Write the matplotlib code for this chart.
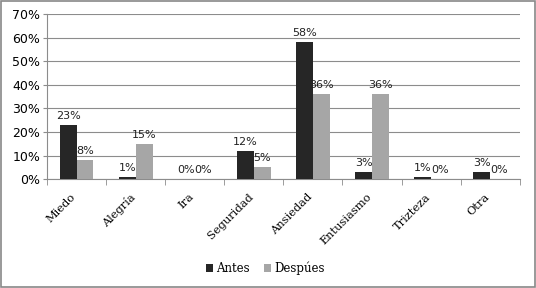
import matplotlib
matplotlib.use("Agg")
import matplotlib.pyplot as plt
import matplotlib.transforms as mtransforms
import numpy as np
from matplotlib.patches import Rectangle

categories = ["Miedo", "Alegría", "Ira", "Seguridad", "Ansiedad", "Entusiasmo", "Trizteza", "Otra"]
antes = [23, 1, 0, 12, 58, 3, 1, 3]
despues = [8, 15, 0, 5, 36, 36, 0, 0]
yticks = [0, 10, 20, 30, 40, 50, 60, 70]

fig = plt.figure(figsize=(5.36, 2.88), dpi=100)
fig.patches.append(Rectangle((0.002, 0.002), 0.996, 0.994, transform=fig.transFigure,
                             fill=False, edgecolor="#888888", linewidth=1.2))
ax = fig.add_axes([0.0877, 0.378, 0.882, 0.573])

x = np.arange(len(categories))
w = 0.286
b1 = ax.bar(x - w / 2, antes, w, color="#262626", label="Antes", zorder=3)
b2 = ax.bar(x + w / 2, despues, w, color="#a6a6a6", label="Despúes", zorder=3)

for bars, vals in ((b1, antes), (b2, despues)):
    for r, v in zip(bars, vals):
        ax.annotate(f"{v}%", (r.get_x() + r.get_width() / 2, v), xytext=(0, 3),
                    textcoords="offset points", ha="center", va="bottom",
                    fontsize=8, family="DejaVu Sans", color="#222222", zorder=4)

ax.set_xlim(-0.5, len(categories) - 0.5)
ax.set_ylim(0, 70)
ax.set_yticks(yticks)
ax.set_yticklabels([f"{t}%" for t in yticks], fontsize=9, family="DejaVu Sans")
ax.yaxis.grid(True, color="#8c8c8c", linewidth=0.8, zorder=0)
ax.tick_params(axis="y", length=3, color="#8c8c8c", pad=2)

ax.set_xticks(x)
ax.set_xticklabels(categories, rotation=45, ha="right", rotation_mode="anchor",
                   fontsize=8.2, family="DejaVu Serif")
ax.tick_params(axis="x", which="major", length=0, pad=9)
offset = mtransforms.ScaledTranslation(-6 / 100, 0, fig.dpi_scale_trans)
for lab in ax.get_xticklabels():
    lab.set_transform(lab.get_transform() + offset)
ax.set_xticks(np.arange(-0.5, len(categories)), minor=True)
ax.tick_params(axis="x", which="minor", length=4, color="#8c8c8c")

for s in ("top", "right"):
    ax.spines[s].set_visible(False)
ax.spines["left"].set_color("#8c8c8c")
ax.spines["bottom"].set_color("#8c8c8c")

leg = fig.legend(handles=[b1, b2], labels=["Antes", "Despúes"], loc="center",
                 bbox_to_anchor=(0.495, 0.068), ncol=2, frameon=False,
                 prop={"family": "DejaVu Serif", "size": 8.5},
                 handlelength=0.6, handleheight=0.6, handletextpad=0.3, columnspacing=1.2)

fig.savefig("out.png", dpi=100)
